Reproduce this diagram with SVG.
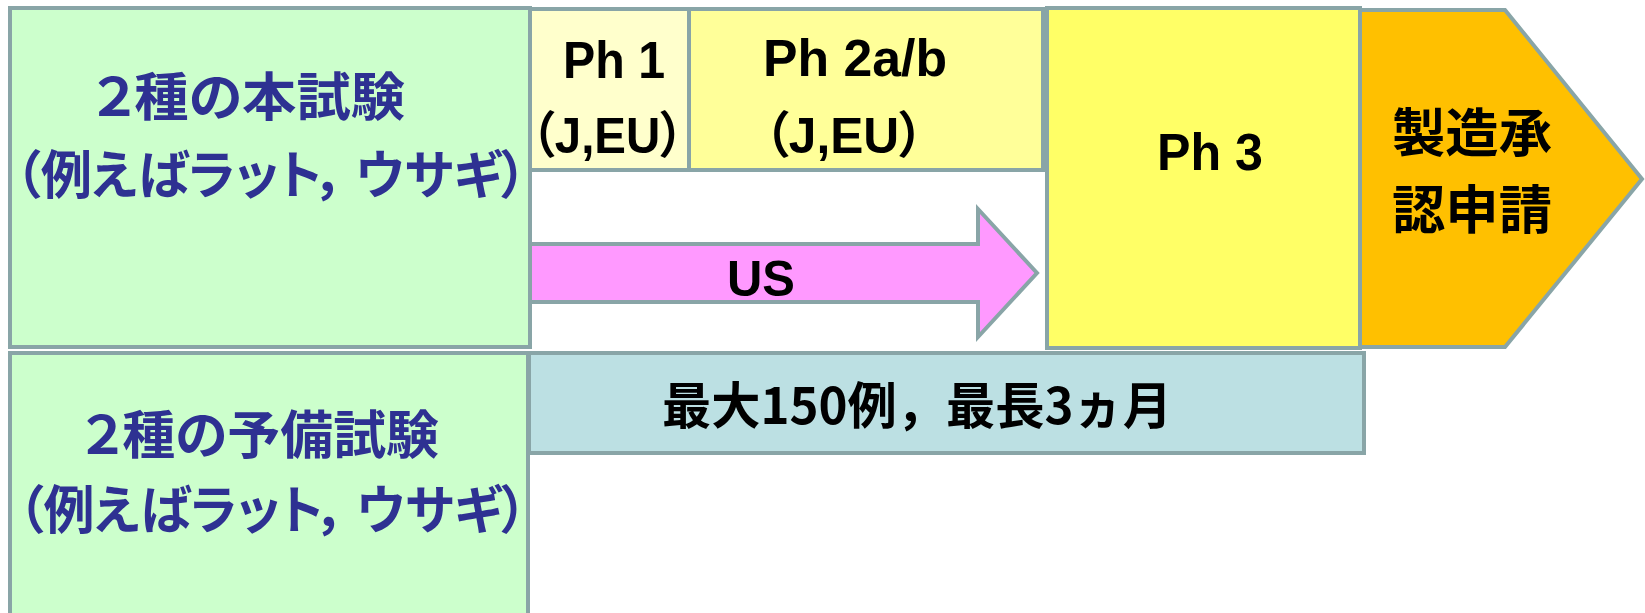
<svg xmlns="http://www.w3.org/2000/svg" width="1645" height="613" viewBox="0 0 1645 613">
<style>
.b{stroke:#89a5a7;stroke-width:4}
.t{font-family:"Liberation Sans","Noto Sans CJK JP",sans-serif;font-weight:bold;fill:#000;font-feature-settings:"palt"}
.n{font-family:"Noto Sans CJK JP","Liberation Sans",sans-serif;font-weight:bold;fill:#2e3192}
.k{font-family:"Noto Sans CJK JP","Liberation Sans",sans-serif;font-weight:bold;fill:#000}
.p{font-feature-settings:"palt"}
</style>
<rect width="1645" height="613" fill="#fff"/>
<g id="connectors">
<polygon class="b" fill="#ff99ff" points="530,244 978,244 978,209 1037,273 978,337 978,302 530,302"/>
<text class="t" x="727" y="296" font-size="50" textLength="68" lengthAdjust="spacingAndGlyphs">US</text>
</g>
<g id="blue">
<rect class="b" fill="#bce0e3" x="529" y="353" width="835" height="100"/>
<text class="k" x="662" y="424" font-size="50" textLength="510" lengthAdjust="spacingAndGlyphs">最大150例，最長3ヵ月</text>
</g>
<g id="main-test">
<rect class="b" fill="#ccffcc" x="10" y="8" width="520" height="339"/>
<text class="n p" x="93" y="116" font-size="52" textLength="312" lengthAdjust="spacingAndGlyphs">２種の本試験</text>
<text class="n p" x="15" y="194" dx="0 0 0 0 0 0 0 0 10" font-size="52" textLength="512" lengthAdjust="spacingAndGlyphs">（例えばラット，ウサギ）</text>
</g>
<g id="pre-test">
<rect class="b" fill="#ccffcc" x="10" y="353" width="518" height="280"/>
<text class="n p" x="82" y="454" font-size="52" textLength="357" lengthAdjust="spacingAndGlyphs">２種の予備試験</text>
<text class="n p" x="18" y="529" dx="0 0 0 0 0 0 0 0 10" font-size="52" textLength="509" lengthAdjust="spacingAndGlyphs">（例えばラット，ウサギ）</text>
</g>
<g id="ph1">
<rect class="b" fill="#ffffcc" x="530" y="9" width="159" height="161"/>
<text class="t" x="563" y="78" font-size="52" textLength="102" lengthAdjust="spacingAndGlyphs">Ph 1</text>
<text class="t" x="531" y="153" font-size="50" textLength="153" lengthAdjust="spacingAndGlyphs">（J,EU）</text>
</g>
<g id="ph2">
<rect class="b" fill="#ffff99" x="689" y="9" width="354" height="161"/>
<text class="t" x="763" y="76" font-size="52" textLength="184" lengthAdjust="spacingAndGlyphs">Ph 2a/b</text>
<text class="t" x="764" y="153" font-size="50" textLength="160" lengthAdjust="spacingAndGlyphs">（J,EU）</text>
</g>
<g id="ph3">
<rect class="b" fill="#ffff66" x="1047" y="8" width="313" height="340"/>
<text class="t" x="1157" y="170" font-size="52" textLength="106" lengthAdjust="spacingAndGlyphs">Ph 3</text>
</g>
<g id="approval">
<polygon class="b" fill="#ffc000" points="1360,10 1505,10 1642,179 1505,347 1360,347"/>
<text class="k" x="1392" y="152" font-size="52" textLength="160" lengthAdjust="spacingAndGlyphs">製造承</text>
<text class="k" x="1392" y="229" font-size="52" textLength="160" lengthAdjust="spacingAndGlyphs">認申請</text>
</g>
</svg>
